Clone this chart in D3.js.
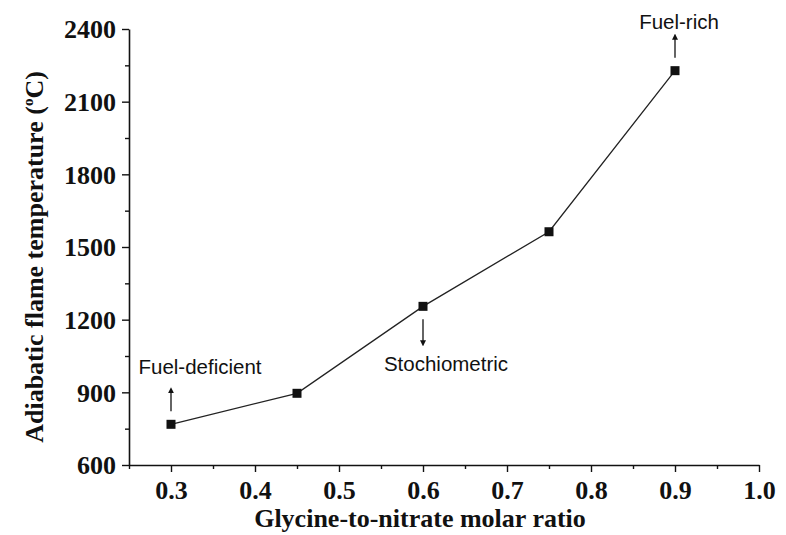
<!DOCTYPE html>
<html><head><meta charset="utf-8">
<script src="https://cdn.jsdelivr.net/npm/d3@7"></script>
<style>body{margin:0;background:#fff}svg{display:block}</style>
</head><body>
<svg id="c" width="786" height="535"></svg>
<script>
const ratios = [0.3, 0.45, 0.6, 0.75, 0.9];
const temps = [768, 896, 1255, 1563, 2228];
const xTicks = [0.3, 0.4, 0.5, 0.6, 0.7, 0.8, 0.9, 1.0];
const yTicks = [600, 900, 1200, 1500, 1800, 2100, 2400];
const annotations = [
  {label: "Fuel-deficient", x: 0.3, dir: "up", value: 768},
  {label: "Stochiometric", x: 0.6, dir: "down", value: 1255},
  {label: "Fuel-rich", x: 0.9, dir: "up", value: 2228}
];

const svg = d3.select("#c");
const x = d3.scaleLinear().domain([0.25, 1.0]).range([129, 759]);
const y = d3.scaleLinear().domain([600, 2400]).range([465, 29]);

const serif = "'Liberation Serif','Times New Roman',serif";
const sans = "'Liberation Sans',Arial,sans-serif";

svg.append("defs").append("marker").attr("id","ah").attr("viewBox","0 0 10 10")
  .attr("refX",5).attr("refY",5).attr("markerWidth",6).attr("markerHeight",8)
  .attr("orient","auto").attr("markerUnits","userSpaceOnUse")
  .append("path").attr("d","M0,0 L10,5 L0,10 Z").attr("fill","#111");

const xMinor = d3.range(0.25, 1.0001, 0.05).filter(v => !xTicks.some(t => Math.abs(t - v) < 1e-6));
const yMinor = d3.range(750, 2400, 300);

const xAxis = svg.append("g").attr("transform","translate(0,465)")
  .call(d3.axisBottom(x).tickValues(xTicks).tickFormat(d3.format(".1f")).tickSizeInner(7).tickSizeOuter(0).tickPadding(9));
const xAxisMinor = svg.append("g").attr("transform","translate(0,465)")
  .call(d3.axisBottom(x).tickValues(xMinor).tickFormat("").tickSizeInner(4).tickSizeOuter(0));
xAxisMinor.select(".domain").remove();

const yAxis = svg.append("g").attr("transform","translate(129,0)")
  .call(d3.axisLeft(y).tickValues(yTicks).tickFormat(d3.format("d")).tickSizeInner(7).tickSizeOuter(0).tickPadding(6));
const yAxisMinor = svg.append("g").attr("transform","translate(129,0)")
  .call(d3.axisLeft(y).tickValues(yMinor).tickFormat("").tickSizeInner(4).tickSizeOuter(0));
yAxisMinor.select(".domain").remove();

svg.selectAll(".domain").attr("stroke","#111").attr("stroke-width",1.6);
svg.selectAll(".tick line").attr("stroke","#111").attr("stroke-width",1.4);
svg.selectAll(".tick text").attr("font-family",serif).attr("font-weight","bold")
  .attr("font-size","26px").attr("fill","#111");
xAxis.selectAll(".tick text").attr("dy","0.71em");
yAxis.selectAll(".tick text").attr("dy","0.34em");

const line = d3.line().x((d,i)=>x(ratios[i])).y(d=>y(d));
svg.append("path").datum(temps).attr("d", line).attr("fill","none")
  .attr("stroke","#222").attr("stroke-width",1.3);

svg.selectAll("rect.pt").data(temps).enter().append("rect").attr("class","pt")
  .attr("x",(d,i)=>x(ratios[i])-4.5).attr("y",d=>y(d)-4.5)
  .attr("width",9).attr("height",9).attr("fill","#111");

const labelOffsets = {"Fuel-deficient": [29, -50], "Stochiometric": [23, 65], "Fuel-rich": [4, -42]};
annotations.forEach(a => {
  const px = x(a.x), py = y(a.value);
  const off = labelOffsets[a.label];
  if (a.dir === "up") {
    svg.append("line").attr("x1",px).attr("x2",px).attr("y1",py-13).attr("y2",py-34)
      .attr("stroke","#111").attr("stroke-width",1.3).attr("marker-end","url(#ah)");
  } else {
    svg.append("line").attr("x1",px).attr("x2",px).attr("y1",py+13).attr("y2",py+37)
      .attr("stroke","#111").attr("stroke-width",1.3).attr("marker-end","url(#ah)");
  }
  svg.append("text").attr("x", px + off[0]).attr("y", py + off[1])
    .attr("text-anchor","middle").attr("font-family",sans).attr("font-size","20.5px")
    .attr("fill","#111").text(a.label);
});

svg.append("text").attr("x",420).attr("y",527).attr("text-anchor","middle")
  .attr("font-family",serif).attr("font-weight","bold").attr("font-size","26px")
  .attr("fill","#111").text("Glycine-to-nitrate molar ratio");

const yt = svg.append("text").attr("transform","translate(43,257) rotate(-90)")
  .attr("text-anchor","middle").attr("font-family",serif).attr("font-weight","bold")
  .attr("font-size","26px").attr("fill","#111");
yt.append("tspan").text("Adiabatic flame temperature (");
yt.append("tspan").attr("font-size","15px").attr("dy","-10").text("o");
yt.append("tspan").attr("dy","10").text("C)");
</script>
</body></html>
